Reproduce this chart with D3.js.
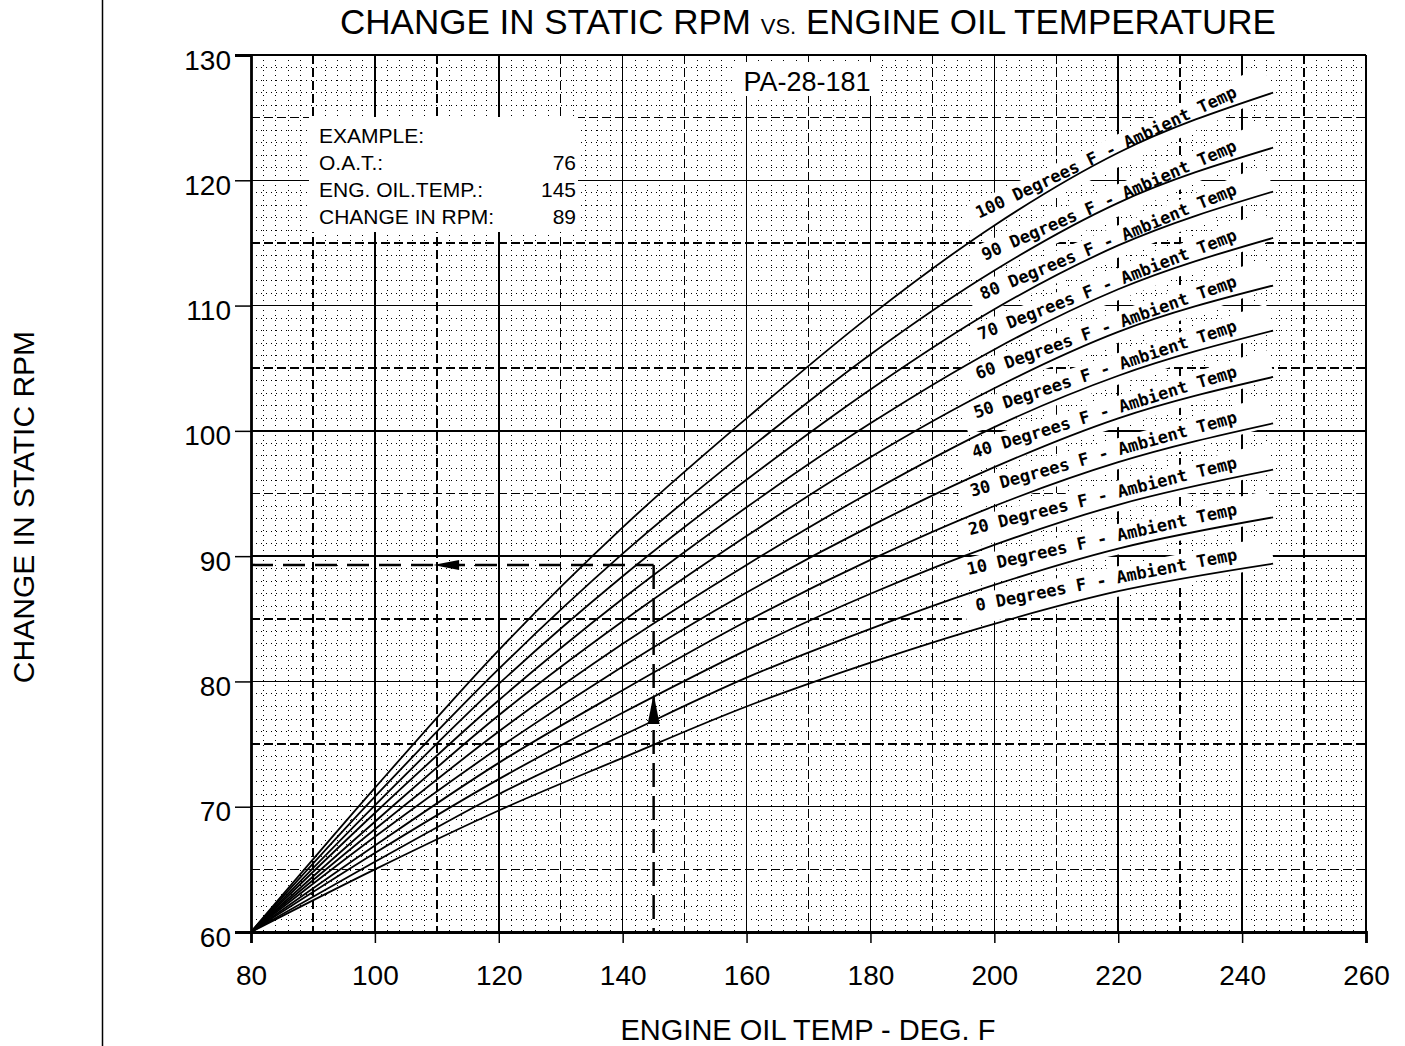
<!DOCTYPE html>
<html>
<head>
<meta charset="utf-8">
<script src="https://cdn.jsdelivr.net/npm/d3@7"></script>
<style>
  html, body { margin: 0; padding: 0; background: #fff; }
  svg { display: block; }
</style>
</head>
<body>
<div id="chart"></div>
<script>
// Change in static RPM vs engine oil temperature (PA-28-181)

const temps = [80, 100, 120, 140, 160, 180, 200, 220, 245];
const ambientTemps = [0, 10, 20, 30, 40, 50, 60, 70, 80, 90, 100];

// one series per ambient temperature at the temps above
const rpm0 = [60, 65.0, 69.7, 73.9, 78.0, 81.5, 84.6, 87.2, 89.4];
const rpm10 = [60, 65.6, 71.0, 75.7, 80.3, 84.2, 87.7, 90.6, 93.1];
const rpm20 = [60, 66.3, 72.2, 77.5, 82.5, 87.0, 90.9, 94.1, 96.9];
const rpm30 = [60, 66.9, 73.5, 79.3, 84.8, 89.7, 94.0, 97.5, 100.6];
const rpm40 = [60, 67.6, 74.7, 81.2, 87.1, 92.4, 97.1, 101.0, 104.3];
const rpm50 = [60, 68.2, 76.0, 83.0, 89.3, 95.1, 100.3, 104.4, 108.0];
const rpm60 = [60, 68.8, 77.3, 84.8, 91.6, 97.9, 103.4, 107.9, 111.6];
const rpm70 = [60, 69.5, 78.5, 86.6, 93.9, 100.6, 106.5, 111.3, 115.4];
const rpm80 = [60, 70.1, 79.8, 88.4, 96.1, 103.3, 109.7, 114.8, 119.1];
const rpm90 = [60, 70.8, 81.0, 90.2, 98.4, 106.1, 112.8, 118.2, 122.6];
const rpm100 = [60, 71.5, 82.5, 92.3, 101.0, 109.2, 116.4, 122.2, 127.0];

const xTicks = [80, 100, 120, 140, 160, 180, 200, 220, 240, 260];
const yTicks = [60, 70, 80, 90, 100, 110, 120, 130];

// worked example
const exampleLines = [
  ["EXAMPLE:", ""],
  ["O.A.T.:", "76"],
  ["ENG. OIL.TEMP.:", "145"],
  ["CHANGE IN RPM:", "89"],
];
const exampleOilTemp = 145;
const exampleRpm = 89.3;
const arrowLeftTip = 109.4;   // deg F
const arrowUpTip = 79.0;      // rpm

(function () {
  const WIDTH = 1405;
  const HEIGHT = 1046;
  const FONT = "'Liberation Sans', Arial, Helvetica, sans-serif";
  const MONO = "'DejaVu Sans Mono', monospace";

  const series = [rpm0, rpm10, rpm20, rpm30, rpm40, rpm50, rpm60, rpm70, rpm80, rpm90, rpm100];

  const x = d3.scaleLinear().domain([80, 260]).range([251, 1366]);
  const y = d3.scaleLinear().domain([60, 130]).range([932, 55]);

  const svg = d3.select("#chart").append("svg")
    .attr("width", WIDTH)
    .attr("height", HEIGHT);

  svg.append("rect").attr("width", WIDTH).attr("height", HEIGHT).attr("fill", "#fff");

  // stray left rule from the scan
  svg.append("line")
    .attr("x1", 102.5).attr("x2", 102.5)
    .attr("y1", 0).attr("y2", HEIGHT)
    .attr("stroke", "#000").attr("stroke-width", 1.5);

  const grid = svg.append("g").attr("class", "grid")
    .attr("shape-rendering", "crispEdges");

  // minor dotted grid
  const minorX = d3.range(82, 260, 2).filter(d => d % 10 !== 0);
  const minorY = d3.range(61, 130, 1).filter(d => d % 5 !== 0);
  grid.selectAll("line.mx").data(minorX).enter().append("line")
    .attr("x1", d => x(d)).attr("x2", d => x(d))
    .attr("y1", y(130)).attr("y2", y(60))
    .attr("stroke", "#000").attr("stroke-width", 1)
    .attr("stroke-dasharray", "1,4");
  grid.selectAll("line.my").data(minorY).enter().append("line")
    .attr("x1", x(80)).attr("x2", x(260))
    .attr("y1", d => y(d)).attr("y2", d => y(d))
    .attr("stroke", "#000").attr("stroke-width", 1)
    .attr("stroke-dasharray", "1,4");

  // dashed mid grid
  const midX = d3.range(90, 260, 20);
  const midY = d3.range(65, 130, 10);
  grid.selectAll("line.dx").data(midX).enter().append("line")
    .attr("x1", d => x(d)).attr("x2", d => x(d))
    .attr("y1", y(130)).attr("y2", y(60))
    .attr("stroke", "#000").attr("stroke-width", 1.5)
    .attr("stroke-dasharray", "9,4");
  grid.selectAll("line.dy").data(midY).enter().append("line")
    .attr("x1", x(80)).attr("x2", x(260))
    .attr("y1", d => y(d)).attr("y2", d => y(d))
    .attr("stroke", "#000").attr("stroke-width", 1.5)
    .attr("stroke-dasharray", "9,4");

  // solid major grid
  grid.selectAll("line.sx").data(xTicks.slice(1)).enter().append("line")
    .attr("x1", d => x(d)).attr("x2", d => x(d))
    .attr("y1", y(130)).attr("y2", y(60))
    .attr("stroke", "#000").attr("stroke-width", 1.5);
  grid.selectAll("line.sy").data(yTicks.slice(1)).enter().append("line")
    .attr("x1", x(80)).attr("x2", x(260))
    .attr("y1", d => y(d)).attr("y2", d => y(d))
    .attr("stroke", "#000").attr("stroke-width", 1.5);

  // white boxes: example + model label
  svg.append("rect")
    .attr("x", 309).attr("y", 117)
    .attr("width", 269).attr("height", 115)
    .attr("fill", "#fff");
  svg.append("rect")
    .attr("x", 734).attr("y", 62)
    .attr("width", 146).attr("height", 34)
    .attr("fill", "#fff");

  // curve label placement, computed from each curve
  const labelStartX = 978;
  const labelEndX = 1238;
  const labels = series.map((vals, i) => {
    const f = d3.scaleLinear().domain(temps).range(vals);
    const y0 = y(f(x.invert(labelStartX))) - 18;
    const y1 = y(f(x.invert(labelEndX))) - 10;
    const angle = Math.atan2(y1 - y0, labelEndX - labelStartX) * 180 / Math.PI;
    return { text: `${ambientTemps[i]} Degrees F - Ambient Temp`, x: labelEndX, y: y1, angle };
  });

  const labelG = svg.append("g").attr("class", "curve-labels");
  labelG.selectAll("rect").data(labels).enter().append("rect")
    .attr("transform", d => `translate(${d.x},${d.y}) rotate(${d.angle})`)
    .attr("x", d => -d.text.length * 10.23 - 12)
    .attr("y", -17)
    .attr("width", d => d.text.length * 10.23 + 47)
    .attr("height", 30)
    .attr("fill", "#fff");

  // curves
  const line = d3.line()
    .x((d, i) => x(temps[i]))
    .y(d => y(d))
    .curve(d3.curveMonotoneX);

  svg.append("g").attr("class", "curves")
    .selectAll("path").data(series).enter().append("path")
    .attr("d", line)
    .attr("fill", "none")
    .attr("stroke", "#000")
    .attr("stroke-width", 1.8);

  labelG.selectAll("text").data(labels).enter().append("text")
    .attr("transform", d => `translate(${d.x},${d.y}) rotate(${d.angle})`)
    .attr("text-anchor", "end")
    .style("font-family", MONO)
    .style("font-weight", "bold")
    .style("font-size", "17px")
    .style("fill", "#000")
    .text(d => d.text);

  // example path
  const ex = svg.append("g").attr("class", "example");
  ex.append("path")
    .attr("d", `M${x(80)},${y(exampleRpm)}H${x(exampleOilTemp)}`)
    .attr("stroke", "#000").attr("stroke-width", 2.5).attr("fill", "none")
    .attr("stroke-dasharray", "22,10");
  ex.append("path")
    .attr("d", `M${x(exampleOilTemp)},${y(exampleRpm)}V${y(60)}`)
    .attr("stroke", "#000").attr("stroke-width", 2.5).attr("fill", "none")
    .attr("stroke-dasharray", "24,9");
  const ay = y(exampleRpm);
  const lx = x(arrowLeftTip);
  ex.append("path")
    .attr("d", `M${lx},${ay}L${lx + 26},${ay - 5}L${lx + 26},${ay + 5}Z`)
    .attr("fill", "#000");
  const ax = x(exampleOilTemp);
  const uy = y(arrowUpTip);
  ex.append("path")
    .attr("d", `M${ax},${uy}L${ax - 6},${uy + 30}L${ax + 6},${uy + 30}Z`)
    .attr("fill", "#000");

  // frame
  svg.append("line")
    .attr("x1", x(80)).attr("x2", x(260)).attr("y1", y(130)).attr("y2", y(130))
    .attr("stroke", "#000").attr("stroke-width", 1.6);
  svg.append("line")
    .attr("x1", x(260)).attr("x2", x(260)).attr("y1", y(130)).attr("y2", y(60))
    .attr("stroke", "#000").attr("stroke-width", 1.8);

  // axes
  const xAxis = d3.axisBottom(x).tickValues(xTicks).tickSize(11).tickPadding(22);
  const yAxis = d3.axisLeft(y).tickValues(yTicks).tickSize(16).tickPadding(4);

  const gx = svg.append("g").attr("transform", `translate(0,${y(60)})`).call(xAxis);
  const gy = svg.append("g").attr("transform", `translate(${x(80)},0)`).call(yAxis);

  [gx, gy].forEach(g => {
    g.select(".domain").attr("stroke", "#000").attr("stroke-width", 2.8);
    g.selectAll(".tick line").attr("stroke", "#000").attr("stroke-width", 1.5);
    g.selectAll(".tick text")
      .style("font-family", FONT)
      .style("font-size", "28px")
      .style("fill", "#000");
  });
  gy.selectAll(".tick text").attr("dy", "0.5em");

  // example text
  const exText = svg.append("g")
    .style("font-family", FONT)
    .style("font-size", "21px")
    .style("fill", "#000");
  exText.selectAll("text.k").data(exampleLines).enter().append("text")
    .attr("x", 319)
    .attr("y", (d, i) => 143 + i * 27)
    .text(d => d[0]);
  exText.selectAll("text.v").data(exampleLines).enter().append("text")
    .attr("x", 576)
    .attr("y", (d, i) => 143 + i * 27)
    .attr("text-anchor", "end")
    .text(d => d[1]);

  // model label
  svg.append("text")
    .attr("x", 807).attr("y", 91)
    .attr("text-anchor", "middle")
    .style("font-family", FONT)
    .style("font-size", "27px")
    .text("PA-28-181");

  // title
  const title = svg.append("text")
    .attr("x", 808).attr("y", 34)
    .attr("text-anchor", "middle")
    .style("font-family", FONT)
    .style("font-size", "35px");
  title.append("tspan").text("CHANGE IN STATIC RPM ");
  title.append("tspan").style("font-size", "22px").text("VS.");
  title.append("tspan").text(" ENGINE OIL TEMPERATURE");

  // axis titles
  svg.append("text")
    .attr("x", 808).attr("y", 1040)
    .attr("text-anchor", "middle")
    .style("font-family", FONT)
    .style("font-size", "29px")
    .text("ENGINE OIL TEMP - DEG. F");

  svg.append("text")
    .attr("transform", "translate(34,507) rotate(-90)")
    .attr("text-anchor", "middle")
    .style("font-family", FONT)
    .style("font-size", "30px")
    .text("CHANGE IN STATIC RPM");
})();
</script>
</body>
</html>
